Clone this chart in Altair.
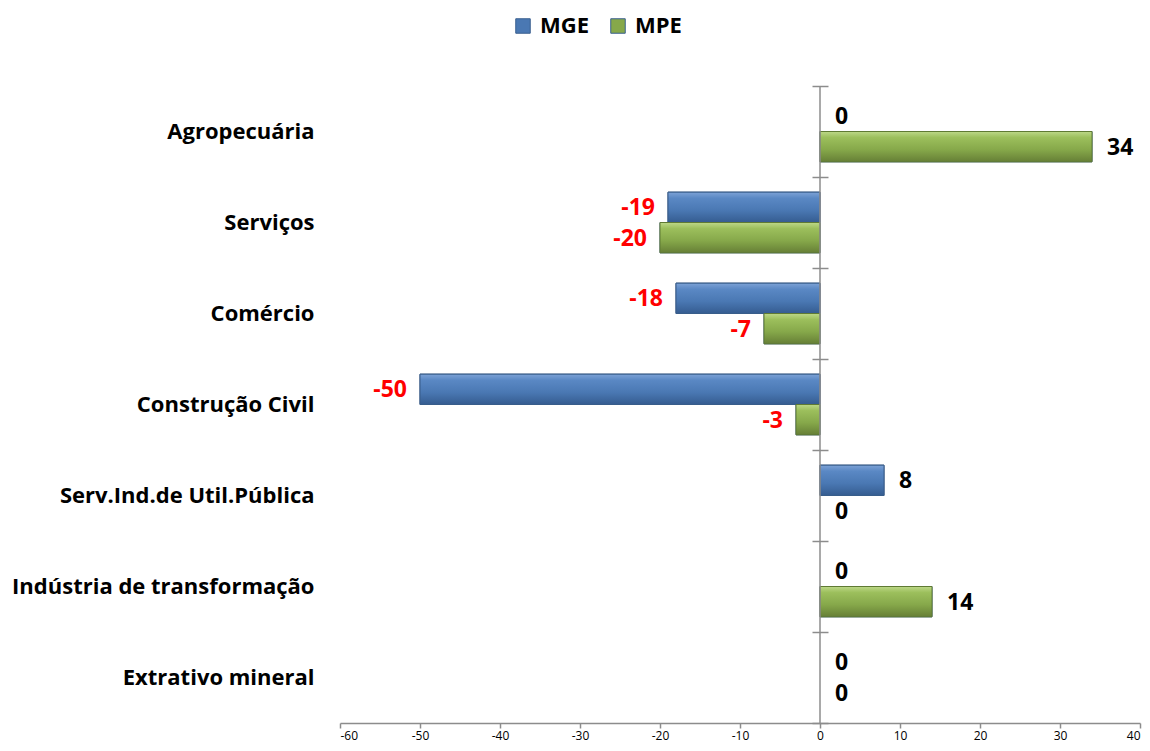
import altair as alt
import pandas as pd

categories = ["Agropecuária", "Serviços", "Comércio", "Construção Civil",
              "Serv.Ind.de Util.Pública", "Indústria de transformação", "Extrativo mineral"]
series_names = ["MGE", "MPE"]
mge_values = [0, -19, -18, -50, 8, 0, 0]
mpe_values = [34, -20, -7, -3, 0, 14, 0]
x_ticks = [-60, -50, -40, -30, -20, -10, 0, 10, 20, 30, 40]

rows = []
for c, a, b in zip(categories, mge_values, mpe_values):
    rows.append({"cat": c, "series": "MGE", "value": a})
    rows.append({"cat": c, "series": "MPE", "value": b})
df = pd.DataFrame(rows)

FONT = "Open Sans"
W, H = 800, 637

xscale = alt.Scale(domain=[-60, 40], nice=False, zero=False)
yscale = alt.Scale(domain=categories, paddingInner=0, paddingOuter=0)
yoff = alt.YOffset("series:N", scale=alt.Scale(domain=series_names, paddingInner=0, paddingOuter=0.5))

base = alt.Chart(df).transform_calculate(label="toString(datum.value)")
bars_base = base.transform_filter("datum.value != 0")

x_enc = alt.X("value:Q", scale=xscale,
              axis=alt.Axis(values=x_ticks, title=None, grid=False, domainColor="#8c8c8c",
                            tickColor="#8c8c8c", tickSize=5, tickWidth=1.5, labelFontSize=12,
                            labelFont=FONT, labelColor="#000000", labelPadding=2, domainWidth=1.5,
                            labelExpr="toString(datum.value)"))
y_enc = alt.Y("cat:N", scale=yscale, sort=categories,
              axis=alt.Axis(title=None, domain=False, tickBand="extent", tickSize=16,
                            tickColor="#8c8c8c", tickWidth=1.5, offset=-488, labelPadding=498,
                            labelFont=FONT, labelFontSize=22, labelFontWeight="bold",
                            labelColor="#000000", labelLimit=400))

plain = bars_base.mark_bar(stroke="#2f4f7a", strokeWidth=1).encode(
    x=x_enc, x2=alt.datum(0), y=y_enc, yOffset=yoff,
    color=alt.Color("series:N", scale=alt.Scale(domain=series_names, range=["#4A78B3", "#86A84A"]),
                    legend=alt.Legend(title=None, orient="none", direction="horizontal",
                                      legendX=172, legendY=-71, symbolType="square",
                                      symbolSize=210, symbolStrokeWidth=1,
                                      symbolStrokeColor="#3a5f8f", labelFont=FONT,
                                      labelFontSize=22, labelFontWeight="bold",
                                      labelColor="#000000", columnPadding=18, labelOffset=6))
)

blue_grad = alt.Gradient(gradient="linear", x1=0, x2=0, y1=0, y2=1, stops=[
    alt.GradientStop(color="#7DA2D6", offset=0),
    alt.GradientStop(color="#5A88C4", offset=0.2),
    alt.GradientStop(color="#4A78B3", offset=0.6),
    alt.GradientStop(color="#355C90", offset=1)])
green_grad = alt.Gradient(gradient="linear", x1=0, x2=0, y1=0, y2=1, stops=[
    alt.GradientStop(color="#BDD888", offset=0),
    alt.GradientStop(color="#9CBF5C", offset=0.2),
    alt.GradientStop(color="#86A84A", offset=0.6),
    alt.GradientStop(color="#667F36", offset=1)])

blue = bars_base.transform_filter("datum.series == 'MGE'").mark_bar(
    fill=blue_grad, stroke="#385D8A", strokeWidth=1).encode(
    x="value:Q", x2=alt.datum(0), y="cat:N", yOffset=yoff)
green = bars_base.transform_filter("datum.series == 'MPE'").mark_bar(
    fill=green_grad, stroke="#5f7a33", strokeWidth=1).encode(
    x="value:Q", x2=alt.datum(0), y="cat:N", yOffset=yoff)

vline = alt.Chart(pd.DataFrame({"z": [0]})).mark_rule(color="#8c8c8c", strokeWidth=1.5).encode(
    x=alt.X("z:Q", scale=xscale), y=alt.value(0), y2=alt.value(H))

pos_text = base.transform_filter("datum.value >= 0").mark_text(
    align="left", baseline="middle", dx=15, dy=1, font=FONT, fontSize=23, fontWeight="bold",
    color="#000000").encode(x="value:Q", y="cat:N", yOffset=yoff, text="label:N")
neg_text = base.transform_filter("datum.value < 0").mark_text(
    align="right", baseline="middle", dx=-13, dy=1, font=FONT, fontSize=23, fontWeight="bold",
    color="#FF0000").encode(x="value:Q", y="cat:N", yOffset=yoff, text="label:N")

chart = alt.layer(plain, blue, green, vline, pos_text, neg_text).properties(
    width=W, height=H,
    autosize=alt.AutoSizeParams(type="none"),
    padding={"left": 332, "top": 78, "right": 2, "bottom": 20},
).configure(background="white", view=alt.ViewConfig(stroke=None))

chart.save("out.html", embed_options={"renderer": "svg", "actions": False})
